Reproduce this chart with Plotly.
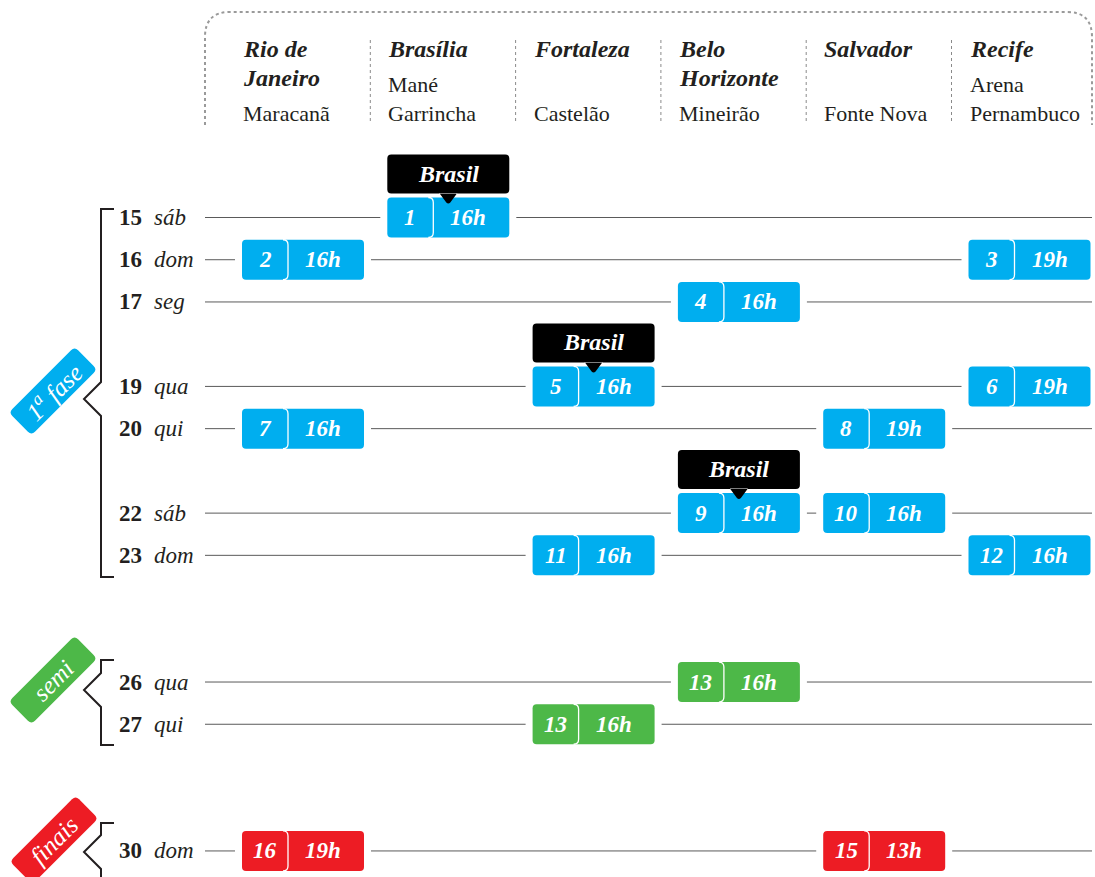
import plotly.graph_objects as go

W, H = 1095, 877
FONT = "Liberation Serif"
INK = "#231f20"

# ---------------- data ----------------
venue_city = [["Rio de", "Janeiro"], ["Brasília"], ["Fortaleza"], ["Belo", "Horizonte"], ["Salvador"], ["Recife"]]
venue_stadium = [["Maracanã"], ["Mané", "Garrincha"], ["Castelão"], ["Mineirão"], ["Fonte Nova"], ["Arena", "Pernambuco"]]

days = [15, 16, 17, 19, 20, 22, 23, 26, 27, 30]
weekdays = ["sáb", "dom", "seg", "qua", "qui", "sáb", "dom", "qua", "qui", "dom"]

match_labels = ["1", "2", "3", "4", "5", "6", "7", "8", "9", "10", "11", "12", "13", "13", "16", "15"]
match_day = [15, 16, 16, 17, 19, 19, 20, 20, 22, 22, 23, 23, 26, 27, 30, 30]
match_venue = [1, 0, 5, 3, 2, 5, 0, 4, 3, 4, 2, 5, 3, 2, 0, 4]
match_time = ["16h", "16h", "19h", "16h", "16h", "19h", "16h", "19h", "16h", "16h", "16h", "16h", "16h", "16h", "19h", "13h"]
match_phase = ["fase1"] * 12 + ["semi", "semi", "finais", "finais"]
match_brasil = [True, False, False, False, True, False, False, False, True, False, False, False, False, False, False, False]

phase_colors = {"fase1": "#00AEEF", "semi": "#4DB848", "finais": "#ED1C24"}
phase_text = {"fase1": "1<sup>a</sup> fase", "semi": "semi", "finais": "finais"}

# ---------------- scales ----------------
XS, X0 = 145.3, 303.0      # px per venue, px of venue 0 centre
YS, Y0 = 42.23, 217.5      # px per day, px of day 15
xrange_ = [-X0 / XS, (W - X0) / XS]
yrange_ = [15 + (H - Y0) / YS, 15 - Y0 / YS]


def P(px, py):
    return f"{px / W:.5f},{1 - py / H:.5f}"


def rrect_local(x0, x1, y0, y1, r):
    # pixel-sized path (y up positive)
    return (f"M{x0 + r},{y0} L{x1 - r},{y0} Q{x1},{y0} {x1},{y0 + r} L{x1},{y1 - r} "
            f"Q{x1},{y1} {x1 - r},{y1} L{x0 + r},{y1} Q{x0},{y1} {x0},{y1 - r} "
            f"L{x0},{y0 + r} Q{x0},{y0} {x0 + r},{y0} Z")


def rot_rrect(cx, cy, L, T, r):
    a, b = L / 2, T / 2
    c = 0.7071

    def tp(u, v):
        return P(cx + u * c + v * c, cy - u * c + v * c)
    return (f"M{tp(-a + r, -b)} L{tp(a - r, -b)} Q{tp(a, -b)} {tp(a, -b + r)} "
            f"L{tp(a, b - r)} Q{tp(a, b)} {tp(a - r, b)} L{tp(-a + r, b)} "
            f"Q{tp(-a, b)} {tp(-a, b - r)} L{tp(-a, -b + r)} Q{tp(-a, -b)} {tp(-a + r, -b)} Z")


shapes = []
annos = []

# header dotted frame
shapes.append(dict(type="path", xref="paper", yref="paper",
                   path=f"M{P(205,125)} L{P(205,37)} Q{P(205,12)} {P(230,12)} L{P(1067,12)} "
                        f"Q{P(1092,12)} {P(1092,37)} L{P(1092,125)}",
                   line=dict(color="#9a9a9a", width=2, dash="dot")))
for i in range(1, len(venue_city)):
    shapes.append(dict(type="line", xref="x", yref="paper", xsizemode="pixel", xanchor=i,
                       x0=-78, x1=-78, y0=1 - 40 / H, y1=1 - 122 / H,
                       line=dict(color="#8a8a8a", width=1, dash="dot")))

for i, (city, stad) in enumerate(zip(venue_city, venue_stadium)):
    for k, t in enumerate(city):
        annos.append(dict(x=i, xref="x", xshift=-62, xanchor="left", y=1 - (49 + 29 * k) / H,
                          yref="paper", yanchor="middle", text=t, showarrow=False,
                          font=dict(family=FONT, size=24, color=INK, weight="bold", style="italic")))
    ys = [113] if len(stad) == 1 else [85, 113]
    for t, yy in zip(stad, ys):
        annos.append(dict(x=i, xref="x", xshift=-62, xanchor="left", y=1 - yy / H,
                          yref="paper", yanchor="middle", text=t, showarrow=False,
                          font=dict(family=FONT, size=22, color=INK)))

# day rows
for d, wd in zip(days, weekdays):
    shapes.append(dict(type="line", xref="paper", yref="y", x0=205 / W, x1=1092 / W, y0=d, y1=d,
                       line=dict(color="#5a5a5a", width=1)))
    annos.append(dict(x=117 / W, xref="paper", xanchor="left", y=d, yref="y", yanchor="middle",
                      text=str(d), showarrow=False,
                      font=dict(family=FONT, size=23, color=INK, weight="bold")))
    annos.append(dict(x=152 / W, xref="paper", xanchor="left", y=d, yref="y", yanchor="middle",
                      text=wd, showarrow=False,
                      font=dict(family=FONT, size=23, color=INK, style="italic")))

# match boxes
for lab, d, v, t, ph, br in zip(match_labels, match_day, match_venue, match_time, match_phase, match_brasil):
    col = phase_colors[ph]
    base = dict(xref="x", yref="y", xsizemode="pixel", ysizemode="pixel", xanchor=v, yanchor=d)
    shapes.append(dict(type="rect", x0=-68, x1=68, y0=-3, y1=3, fillcolor="white",
                       line=dict(width=0), **base))
    shapes.append(dict(type="path", path=rrect_local(-61, 61, -20, 20, 4), fillcolor=col,
                       line=dict(width=0), **base))
    shapes.append(dict(type="path", path="M-20,20 Q-15,20 -15,15 L-15,-15 Q-15,-20 -20,-20",
                       line=dict(color="white", width=1.3), **base))
    annos.append(dict(x=v, y=d, xref="x", yref="y", xshift=-38, xanchor="center", yanchor="middle",
                      text=lab, showarrow=False,
                      font=dict(family=FONT, size=23, color="white", weight="bold", style="italic")))
    annos.append(dict(x=v, y=d, xref="x", yref="y", xshift=20, xanchor="center", yanchor="middle",
                      text=t, showarrow=False,
                      font=dict(family=FONT, size=23, color="white", weight="bold", style="italic")))
    if br:
        shapes.append(dict(type="path",
                           path=rrect_local(-61, 61, 24, 63, 4) + " M-9,24.5 L-2,15 Q0,13 2,15 L9,24.5 Z",
                           fillcolor="black", line=dict(width=0), **base))
        annos.append(dict(x=v, y=d, xref="x", yref="y", yshift=44, xanchor="center", yanchor="middle",
                          text="Brasil", showarrow=False,
                          font=dict(family=FONT, size=24, color="white", weight="bold", style="italic")))

# phase brackets (decorative)
brackets = [
    ("fase1", 209, 577, 399, (53, 391)),
    ("semi", 660, 745, 690, (53, 680)),
    ("finais", 823, 900, 852, (54, 840)),
]
for ph, top, bot, notch, (cx, cy) in brackets:
    path = (f"M{P(114, top)} L{P(101, top)} L{P(101, notch - 17)} L{P(84, notch)} "
            f"L{P(101, notch + 17)} L{P(101, bot)} L{P(114, bot)}")
    shapes.append(dict(type="path", xref="paper", yref="paper", path=path,
                       line=dict(color=INK, width=2)))
    shapes.append(dict(type="path", xref="paper", yref="paper", path=rot_rrect(cx, cy, 93, 32, 5),
                       fillcolor=phase_colors[ph], line=dict(width=0)))
    annos.append(dict(x=cx / W, y=1 - cy / H, xref="paper", yref="paper", xanchor="center",
                      yanchor="middle", text=phase_text[ph], textangle=-45, showarrow=False,
                      font=dict(family=FONT, size=25, color="white", style="italic")))

fig = go.Figure()
fig.add_trace(go.Scatter(x=match_venue, y=match_day, mode="markers", marker=dict(opacity=0),
                         hoverinfo="skip", showlegend=False))
fig.update_layout(width=W, height=H, margin=dict(l=0, r=0, t=0, b=0),
                  paper_bgcolor="white", plot_bgcolor="white", showlegend=False,
                  xaxis=dict(range=xrange_, visible=False, fixedrange=True),
                  yaxis=dict(range=yrange_, visible=False, fixedrange=True),
                  shapes=shapes, annotations=annos)
fig.write_html("out.html", config={"displayModeBar": False},
               post_script="document.body.style.margin='0px';document.body.style.overflow='hidden';")
